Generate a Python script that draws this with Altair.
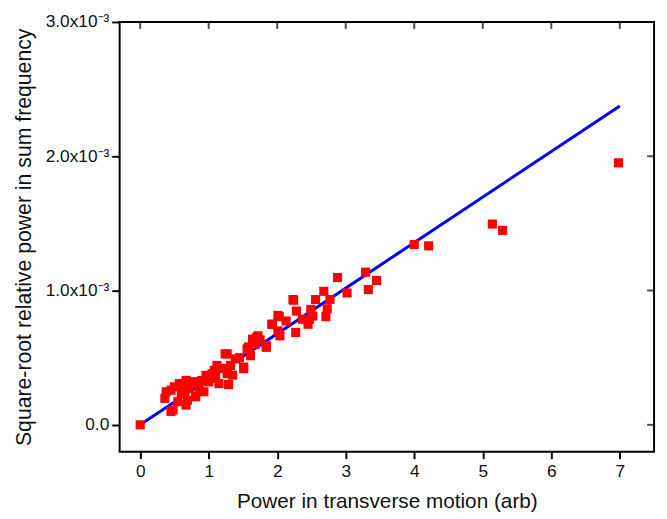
import altair as alt
import pandas as pd

# measured points: x = power in transverse motion (arb), y = sqrt relative power (units of 1e-3)
px = [0.0, 0.36, 0.38, 0.45, 0.45, 0.48, 0.50, 0.55, 0.57, 0.60, 0.62, 0.67, 0.67, 0.69, 0.72,
      0.76, 0.81, 0.84, 0.86, 0.93, 0.96, 0.98, 1.00, 1.05, 1.08, 1.10, 1.12, 1.15, 1.20, 1.24,
      1.27, 1.27, 1.29, 1.32, 1.39, 1.45, 1.51, 1.51, 1.56, 1.61, 1.64, 1.70, 1.72, 1.75, 1.84,
      1.84, 1.92, 1.93, 2.01, 2.01, 2.03, 2.04, 2.13, 2.23, 2.24, 2.27, 2.28, 2.37, 2.45, 2.47,
      2.49, 2.52, 2.56, 2.68, 2.71, 2.73, 2.77, 2.88, 3.02, 3.29, 3.33, 3.45, 4.00, 4.21, 5.14,
      5.29, 6.98, 0.65, 0.72, 0.90, 1.35, 1.58, 1.68]
py = [0.00, 0.197, 0.246, 0.258, 0.099, 0.11, 0.283, 0.172, 0.307, 0.233, 0.30, 0.331, 0.147, 0.184, 0.32,
      0.32, 0.209, 0.32, 0.27, 0.246, 0.368, 0.368, 0.32, 0.38, 0.405, 0.344, 0.442, 0.307, 0.42, 0.528,
      0.381, 0.528, 0.30, 0.442, 0.491, 0.50, 0.43, 0.418, 0.565, 0.515, 0.638, 0.651, 0.663, 0.633, 0.589,
      0.577, 0.749, 0.749, 0.815, 0.70, 0.806, 0.663, 0.773, 0.933, 0.928, 0.688, 0.847, 0.786, 0.749, 0.786,
      0.859, 0.81, 0.933, 0.994, 0.806, 0.864, 0.933, 1.097, 0.982, 1.137, 1.007, 1.075, 1.343, 1.333, 1.495,
      1.448, 1.951, 0.24, 0.27, 0.33, 0.37, 0.58, 0.60]

# fitted line endpoints
line_x = [0.0, 7.0]
line_y = [0.0, 2.375]

x_ticks = [0, 1, 2, 3, 4, 5, 6, 7]
y_ticks = [0.0, 1.0e-3, 2.0e-3, 3.0e-3]

pts = pd.DataFrame({"x": px, "y": [v * 1e-3 for v in py]})
ln = pd.DataFrame({"x": line_x, "y": [v * 1e-3 for v in line_y]})

FONT = "Liberation Sans"
TXT = "#111111"

xs = alt.Scale(domain=[-0.3, 7.5], nice=False, zero=False)
ys = alt.Scale(domain=[-0.2e-3, 3.0e-3], nice=False, zero=False)

ylabel = ("datum.value == 0 ? '0.0' : format(datum.value * 1000, '.1f') + 'x10\u207b\u00b3'")

x_bottom = alt.Axis(values=x_ticks, format="d", title="Power in transverse motion (arb)", grid=False,
                    domain=False, tickColor="black", tickWidth=2, tickSize=7,
                    labelFont=FONT, labelFontSize=17.5, labelColor=TXT, labelPadding=4,
                    titleFont=FONT, titleFontSize=21, titleFontWeight="normal", titleColor=TXT,
                    titlePadding=11)
y_left = alt.Axis(values=y_ticks, title="Square-root relative power in sum frequency", grid=False,
                  domain=False, tickColor="black", tickWidth=2, tickSize=8,
                  labelExpr=ylabel,
                  labelFont=FONT, labelFontSize=17.5, labelColor=TXT, labelPadding=3,
                  titleFont=FONT, titleFontSize=21.5, titleFontWeight="normal", titleColor=TXT,
                  titlePadding=10)

points = alt.Chart(pts).mark_point(shape="square", filled=True, color="#ff0000",
                                   size=85, opacity=1).encode(
    x=alt.X("x:Q", scale=xs, axis=x_bottom),
    y=alt.Y("y:Q", scale=ys, axis=y_left),
)

line = alt.Chart(ln).mark_line(color="#0000ff", strokeWidth=3).encode(
    x=alt.X("x:Q", scale=xs),
    y=alt.Y("y:Q", scale=ys),
)

# inward mirror ticks on top and right
top_ticks = alt.Chart(pd.DataFrame({"x": x_ticks})).mark_tick(
    orient="vertical", color="black", thickness=2, size=7).encode(
    x=alt.X("x:Q", scale=xs),
    y=alt.value(3.5),
)
right_ticks = alt.Chart(pd.DataFrame({"y": y_ticks})).mark_tick(
    orient="horizontal", color="black", thickness=2, size=7).encode(
    y=alt.Y("y:Q", scale=ys),
    x=alt.value(541 - 3.5),
)

chart = alt.layer(line, points, top_ticks, right_ticks).properties(
    width=541, height=435,
    autosize=alt.AutoSizeParams(type="none"),
    padding={"left": 113, "top": 11, "right": 5, "bottom": 64},
).configure(background="white", view=alt.ViewConfig(stroke="black", strokeWidth=2))

chart.save("out.html", embed_options={"renderer": "svg", "actions": False})
